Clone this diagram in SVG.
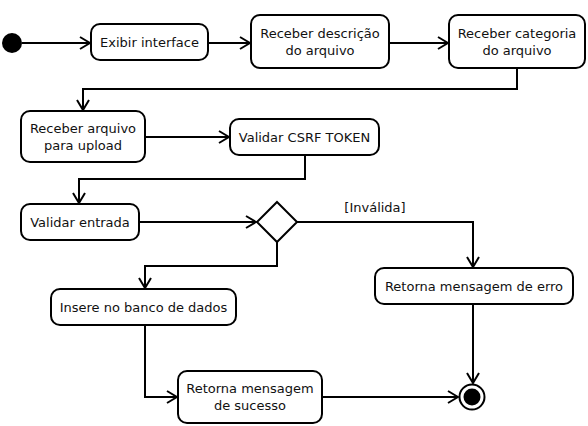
<svg xmlns="http://www.w3.org/2000/svg" width="588" height="426" viewBox="0 0 588 426">
<style>
.n{fill:#fff;stroke:#000;stroke-width:2}
.t{font-family:"DejaVu Sans",sans-serif;font-size:13px;fill:#111;text-anchor:middle}
.c{fill:none;stroke:#000;stroke-width:2}
</style>
<defs>
<marker id="a" markerWidth="12" markerHeight="14" refX="11" refY="7" orient="auto" markerUnits="userSpaceOnUse">
<path d="M1,1 L11,7 L1,13" fill="none" stroke="#000" stroke-width="2"/>
</marker>
</defs>
<rect width="588" height="426" fill="#fff"/>
<g id="connectors">
<path class="c" d="M22,43 H90" marker-end="url(#a)"/>
<path class="c" d="M208,43 H250" marker-end="url(#a)"/>
<path class="c" d="M389,43 H448" marker-end="url(#a)"/>
<path class="c" d="M517,68 V89 H83 V110" marker-end="url(#a)"/>
<path class="c" d="M145,137 H229" marker-end="url(#a)"/>
<path class="c" d="M305,155 V179 H79 V203" marker-end="url(#a)"/>
<path class="c" d="M139,222 H256" marker-end="url(#a)"/>
<path class="c" d="M297,222 H473 V267" marker-end="url(#a)"/>
<text class="t" x="375" y="212">[Inválida]</text>
<path class="c" d="M277,242 V266 H145 V288" marker-end="url(#a)"/>
<path class="c" d="M145,325 V397 H177" marker-end="url(#a)"/>
<path class="c" d="M322,397 H458" marker-end="url(#a)"/>
<path class="c" d="M473,304 V383" marker-end="url(#a)"/>
</g>
<g id="start"><circle cx="12" cy="43" r="10" fill="#000"/></g>
<g id="exibir"><rect class="n" x="91" y="24" width="117" height="36" rx="9"/><text class="t" x="149.5" y="47">Exibir interface</text></g>
<g id="descricao"><rect class="n" x="251" y="15" width="138" height="53" rx="9"/><text class="t" x="320" y="38">Receber descrição</text><text class="t" x="320" y="55">do arquivo</text></g>
<g id="categoria"><rect class="n" x="449" y="15" width="136" height="53" rx="9"/><text class="t" x="517" y="38">Receber categoria</text><text class="t" x="517" y="55">do arquivo</text></g>
<g id="arquivo"><rect class="n" x="21" y="111" width="124" height="51" rx="9"/><text class="t" x="83" y="133">Receber arquivo</text><text class="t" x="83" y="150">para upload</text></g>
<g id="csrf"><rect class="n" x="230" y="119" width="149" height="36" rx="9"/><text class="t" x="304.5" y="142">Validar CSRF TOKEN</text></g>
<g id="entrada"><rect class="n" x="21" y="204" width="118" height="36" rx="9"/><text class="t" x="80" y="227">Validar entrada</text></g>
<g id="decision"><path class="n" d="M277,202 L297,222 L277,242 L257,222 Z"/></g>
<g id="erro"><rect class="n" x="375" y="268" width="198" height="36" rx="9"/><text class="t" x="474" y="291">Retorna mensagem de erro</text></g>
<g id="insere"><rect class="n" x="51" y="289" width="185" height="36" rx="9"/><text class="t" x="143.5" y="312">Insere no banco de dados</text></g>
<g id="sucesso"><rect class="n" x="178" y="371" width="144" height="52" rx="9"/><text class="t" x="250" y="393">Retorna mensagem</text><text class="t" x="250" y="410">de sucesso</text></g>
<g id="end"><circle cx="472" cy="397" r="12.5" fill="#fff" stroke="#000" stroke-width="2"/><circle cx="472" cy="397" r="8.5" fill="#000"/></g>
</svg>
